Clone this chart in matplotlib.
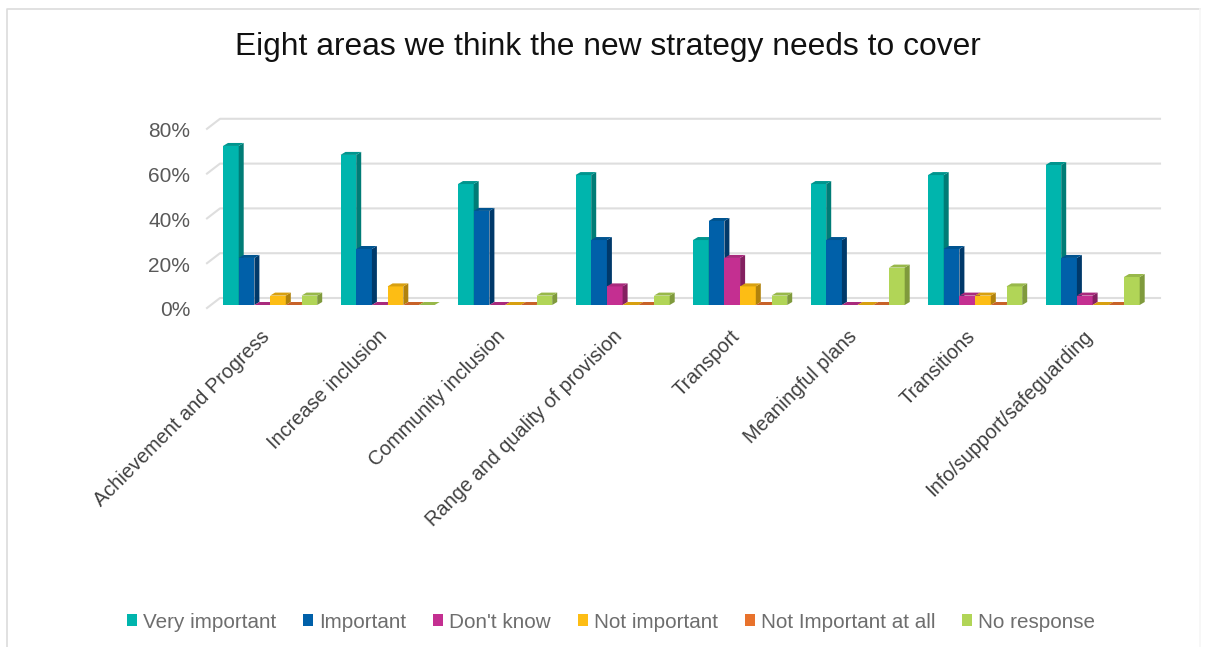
import matplotlib
matplotlib.use("Agg")
import matplotlib.pyplot as plt
from matplotlib.lines import Line2D
from matplotlib.patches import Patch, Polygon
from matplotlib.transforms import ScaledTranslation

categories = [
    "Achievement and Progress", "Increase inclusion", "Community inclusion",
    "Range and quality of provision", "Transport", "Meaningful plans",
    "Transitions", "Info/support/safeguarding",
]
very_important = [71, 67, 54, 58, 29, 54, 58, 62.5]
important = [21, 25, 42, 29, 37.5, 29, 25, 21]
dont_know = [0, 0, 0, 8.3, 21, 0, 4.2, 4.2]
not_important = [4.2, 8.3, 0, 0, 8.3, 0, 4.2, 0]
not_at_all = [0, 0, 0, 0, 0, 0, 0, 0]
no_response = [4.2, 0, 4.2, 4.2, 4.2, 16.7, 8.3, 12.5]
y_ticks = [0, 20, 40, 60, 80]

series = [
    ("Very important", very_important, "#00B5AD", "#00958E", "#007C76"),
    ("Important", important, "#0060A9", "#005490", "#00396A"),
    ("Don't know", dont_know, "#C42F91", "#A92A7D", "#832060"),
    ("Not important", not_important, "#FDBD14", "#D8A010", "#B0820C"),
    ("Not Important at all", not_at_all, "#E8722C", "#C86228", "#A84E1E"),
    ("No response", no_response, "#B1D557", "#98B84A", "#7F9A3C"),
]

W, H = 1208, 647
fig = plt.figure(figsize=(W / 100, H / 100), dpi=100)
plt.rcParams["font.family"] = ["Liberation Sans", "DejaVu Sans"]

# axes cover the front plane of the 3D box
ax = fig.add_axes([207 / W, 1 - 305 / H, 940 / W, 179.2 / H])
ax.set_xlim(0, 8)
ax.set_ylim(0, 80)
ax.patch.set_visible(False)
for side in ax.spines.values():
    side.set_visible(False)

# one screen pixel in data units
px = 8 / 940
py = 80 / 179.2

# back wall gridlines with the short diagonal on the left
for t in y_ticks:
    ax.plot([0, 13 * px, 953 * px], [t - 3 * py, t + 7 * py, t + 7 * py],
            color="#DEDEDE", lw=1.5, clip_on=False, zorder=1)

bar_w = 15.7 * px
depth_x = 5 * px
depth_y = 3 * py
start = 16 * px

for s, (name, values, front, top, side) in enumerate(series):
    for i, v in enumerate(values):
        x0 = i + start + s * bar_w
        x1 = x0 + bar_w
        z = 2 + s
        if v > 0:
            ax.bar(x0, v, width=bar_w, align="edge", color=front, zorder=z, clip_on=False)
            ax.add_patch(Polygon([(x1, 0), (x1 + depth_x, depth_y), (x1 + depth_x, v + depth_y), (x1, v)],
                                 closed=True, fc=side, ec="none", zorder=z, clip_on=False))
        ax.add_patch(Polygon([(x0, v), (x0 + depth_x, v + depth_y), (x1 + depth_x, v + depth_y), (x1, v)],
                             closed=True, fc=top, ec="none", zorder=z, clip_on=False))

ax.set_yticks(y_ticks)
ax.set_yticklabels([f"{t}%" for t in y_ticks], fontsize=15, color="#595959")
ax.tick_params(axis="y", length=0, pad=12)
ax.set_xticks([])
for label in ax.get_yticklabels():
    label.set_transform(label.get_transform() + ScaledTranslation(0, -4 / 72 * 0.72, fig.dpi_scale_trans))

for i, name in enumerate(categories):
    ax.annotate(name, xy=(i + 0.5, 0), xytext=(-4, -15.6), textcoords="offset points",
                rotation=45, rotation_mode="anchor", ha="right", va="top",
                fontsize=14.3, color="#404040", annotation_clip=False)

fig.text(608 / W, 1 - 44 / H, "Eight areas we think the new strategy needs to cover",
         ha="center", va="center_baseline", fontsize=22.85, color="#111111")

handles = [Patch(facecolor=s[2], edgecolor="none", label=s[0]) for s in series]
fig.legend(handles=handles, loc="center", bbox_to_anchor=(611 / W, 1 - 622 / H), ncol=6,
           frameon=False, fontsize=14.9, labelcolor="#6E6E6E", handlelength=0.48, handleheight=0.48,
           handletextpad=0.3, columnspacing=1.3)

# thin frame around the chart area, the right edge is barely there
fig.add_artist(Line2D([7 / W, 7 / W, 1200 / W], [0, 1 - 9 / H, 1 - 9 / H], color="#DCDCDC", lw=1.2))
fig.add_artist(Line2D([1200 / W, 1200 / W], [0, 1 - 9 / H], color="#F6F6F6", lw=1.2))

fig.savefig("out.png", dpi=100)
